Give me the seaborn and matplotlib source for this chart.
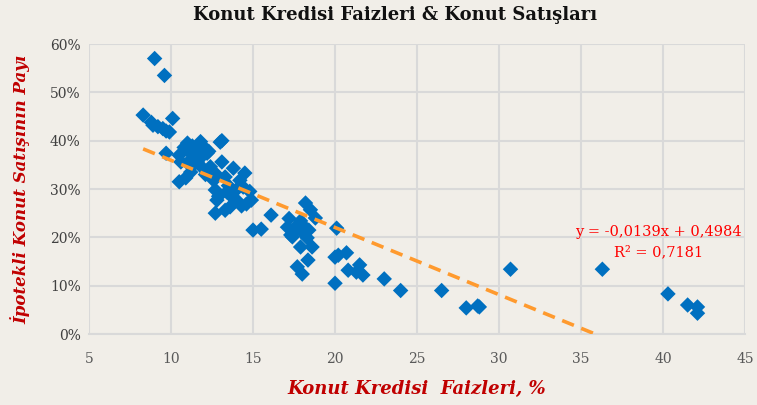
import numpy as np
import pandas as pd
import matplotlib
matplotlib.use("Agg")
import matplotlib.pyplot as plt
from matplotlib.ticker import FuncFormatter
import seaborn as sns

# Konut kredisi faizleri (%) ve ipotekli konut satışının payı (%)
faiz = [
    9.0, 9.6, 8.3, 10.1, 8.8, 8.9, 9.2, 9.5, 9.7, 9.9,
    9.7, 10.5, 10.8, 11.0, 11.3, 11.6, 11.8, 12.0, 12.3, 13.0,
    13.1, 11.2, 11.5, 11.9, 12.2, 10.6, 11.0, 11.3, 11.6, 12.0,
    12.4, 12.1, 13.1, 13.8, 10.5, 10.9, 11.2, 12.6, 12.8, 13.3,
    13.5, 12.7, 12.9, 13.4, 13.7, 14.0, 14.5, 14.2, 14.4, 14.8,
    12.8, 13.6, 14.0, 14.3, 14.6, 14.9, 12.7, 13.3, 15.0, 15.5,
    16.1, 17.2, 17.1, 17.4, 17.3, 17.6, 17.9, 18.0, 18.2, 18.5,
    18.8, 18.3, 17.9, 18.6, 18.1, 18.4, 18.35, 17.7, 18.0, 20.1,
    20.0, 20.2, 20.7, 20.8, 21.3, 21.5, 21.7, 20.0, 23.0, 24.0,
    26.5, 28.0, 28.7, 28.8, 30.7, 36.3, 40.3, 41.5, 42.1, 42.1,
]
pay = [
    57.0, 53.5, 45.3, 44.6, 43.8, 43.2, 42.9, 42.5, 42.0, 41.8,
    37.4, 37.0, 38.6, 39.5, 38.9, 38.1, 39.8, 38.7, 37.8, 39.7,
    40.0, 37.4, 36.6, 36.8, 37.4, 35.6, 35.4, 34.8, 35.6, 34.1,
    34.6, 33.0, 35.6, 34.3, 31.5, 32.3, 33.5, 31.8, 32.9, 32.5,
    30.7, 29.8, 28.5, 29.4, 28.4, 29.9, 33.3, 31.8, 30.4, 29.5,
    27.7, 26.3, 27.7, 26.5, 26.9, 27.7, 25.0, 25.6, 21.5, 21.7,
    24.6, 23.9, 22.1, 20.1, 20.5, 22.1, 23.4, 21.1, 27.1, 25.7,
    24.0, 19.9, 18.0, 18.0, 22.3, 21.5, 15.3, 13.9, 12.4, 21.9,
    15.9, 16.3, 16.8, 13.2, 12.8, 14.3, 12.2, 10.5, 11.4, 9.0,
    9.0, 5.4, 5.8, 5.6, 13.4, 13.4, 8.3, 6.0, 5.6, 4.3,
]

# doğrusal trend (grafikteki denklem)
slope = -0.0139
intercept = 0.4984
r2 = 0.7181

df = pd.DataFrame({"faiz": faiz, "pay": np.array(pay) / 100})

bg = "#F1EEE8"
sns.set_style("whitegrid", {"axes.facecolor": bg, "figure.facecolor": bg,
                            "grid.color": "#D9D9D9"})
plt.rcParams["font.family"] = ["DejaVu Serif"]

fig = plt.figure(figsize=(7.57, 4.05), dpi=100)
ax = fig.add_axes([0.1176, 0.1753, 0.8666, 0.7160])

sns.scatterplot(data=df, x="faiz", y="pay", marker="D", s=62, color="#0070C0",
                edgecolor="none", ax=ax, zorder=3)

trend_x = np.array([min(faiz), -intercept / slope])
ax.plot(trend_x, slope * trend_x + intercept, color="#FF9A2E", lw=2.6,
        ls=(0, (3.5, 2.2)), zorder=4)

ax.text(0.868, 0.352, f"y = {slope:.4f}x + {intercept:.4f}".replace(".", ","),
        transform=ax.transAxes, ha="center", va="center", color="#FF0000",
        fontsize=10.5, clip_on=False)
ax.text(0.868, 0.283, f"R² = {r2:.4f}".replace(".", ","),
        transform=ax.transAxes, ha="center", va="center", color="#FF0000",
        fontsize=10.5)

ax.set_xlim(5, 45)
ax.set_ylim(0, 0.6)
ax.set_xticks(np.arange(5, 46, 5))
ax.set_yticks(np.arange(0, 0.61, 0.1))
ax.yaxis.set_major_formatter(FuncFormatter(lambda v, p: f"{v * 100:.0f}%"))
ax.grid(True, lw=1.5)
ax.tick_params(axis="x", colors="#595959", labelsize=10, length=5, width=1,
               direction="out", pad=8)
ax.tick_params(axis="x", color="#404040")
ax.tick_params(axis="y", colors="#404040", labelsize=10, length=0, pad=6)
for side in ["left", "right", "top"]:
    ax.spines[side].set_visible(False)
ax.spines["bottom"].set_color("#D9D9D9")
ax.spines["bottom"].set_linewidth(1.5)

ax.set_xlabel("Konut Kredisi  Faizleri, %", color="#C00000", fontsize=13,
              fontweight="bold", style="italic", labelpad=10)
ax.set_ylabel("İpotekli Konut Satışının Payı", color="#C00000", fontsize=12,
              fontweight="bold", style="italic", labelpad=14)

fig.text(0.522, 0.963, "Konut Kredisi Faizleri & Konut Satışları",
         ha="center", va="center", fontsize=13, fontweight="bold", color="#111111")

fig.savefig("out.png", dpi=100, facecolor=bg)
